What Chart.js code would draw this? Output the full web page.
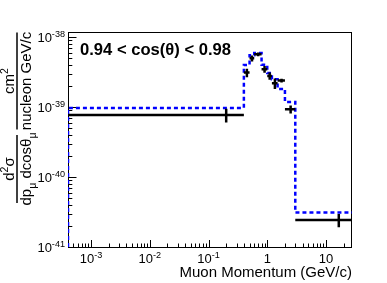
<!DOCTYPE html>
<html>
<head>
<meta charset="utf-8">
<script src="https://cdn.jsdelivr.net/npm/chart.js@4.4.1/dist/chart.umd.min.js"></script>
<style>
  body { margin: 0; background: #fff; }
  #wrap { width: 387px; height: 283px; }
</style>
</head>
<body>
<div id="wrap"><canvas id="xsecChart" width="387" height="283"></canvas></div>
<script>
// Muon momentum bins (GeV/c) for 0.94 < cos(theta) < 0.98
const binEdges = [0, 0.4, 0.5, 0.6, 0.8, 1.0, 1.2, 1.5, 2.0, 3.0, 30];
// measured cross section (cm^2 / nucleon GeV/c) and its error
const dataXsec = [7.7e-40, 3.1e-39, 4.96e-39, 5.66e-39, 3.46e-39, 2.77e-39, 2.18e-39, 2.38e-39, 9.3e-40, 2.43e-41];
const dataErr  = [1.7e-40, 4.3e-40, 5.0e-40, 3.5e-40, 3.8e-40, 3.3e-40, 3.7e-40, 1.5e-40, 1.2e-40, 5.2e-42];
// prediction, dashed blue histogram
const mcXsec   = [9.7e-40, 3.98e-39, 5.5e-39, 5.9e-39, 4.0e-39, 3.06e-39, 2.5e-39, 1.81e-39, 1.18e-39, 3.1e-41];
// axis decades for labels
const xDecades = [-3, -2, -1, 0, 1];
const yDecades = [-41, -40, -39, -38];
const xMin = 4.06e-4, xMax = 27.7;
const yMin = 1e-41, yMax = 1.178e-38;

const FONT = '"Liberation Sans", Arial, Helvetica, sans-serif';

// black: horizontal bin-width bar + vertical error bar, separated by gaps
const dataPoints = [];
dataXsec.forEach((v, i) => {
  const lo = Math.max(binEdges[i], xMin), hi = binEdges[i + 1];
  const c = (binEdges[i] + binEdges[i + 1]) / 2;
  dataPoints.push({x: lo, y: v}, {x: hi, y: v}, {x: hi, y: null});
  dataPoints.push({x: c, y: v - dataErr[i]}, {x: c, y: v + dataErr[i]}, {x: c, y: null});
});

// blue: step histogram starting from the bottom of the frame
const mcPoints = [{x: xMin, y: yMin}];
mcXsec.forEach((v, i) => {
  mcPoints.push({x: Math.max(binEdges[i], xMin), y: v}, {x: binEdges[i + 1], y: v});
});

function drawRich(ctx, runs, x, y, align, size) {
  const subSize = size * 0.7;
  let w = 0;
  runs.forEach(r => {
    ctx.font = (r[1] ? subSize : size) + 'px ' + FONT;
    w += ctx.measureText(r[0]).width;
  });
  let cx = align === 'center' ? x - w / 2 : (align === 'right' ? x - w : x);
  ctx.textAlign = 'left';
  ctx.textBaseline = 'alphabetic';
  runs.forEach(r => {
    ctx.font = (r[1] ? subSize : size) + 'px ' + FONT;
    const dy = r[1] === 1 ? -size * 0.42 : (r[1] === -1 ? size * 0.3 : 0);
    ctx.fillText(r[0], cx, y + dy);
    cx += ctx.measureText(r[0]).width;
  });
}

function drawFrac(ctx, bx, by, len, num, den, size) {
  ctx.save();
  ctx.translate(bx, by);
  ctx.rotate(-Math.PI / 2);
  ctx.fillStyle = '#000';
  ctx.strokeStyle = '#000';
  ctx.lineWidth = 1.5;
  ctx.beginPath();
  ctx.moveTo(-len / 2, 0);
  ctx.lineTo(len / 2, 0);
  ctx.stroke();
  drawRich(ctx, num, 0, -3, 'center', size);
  drawRich(ctx, den, 0, 14, 'center', size);
  ctx.restore();
}

const rootFrame = {
  id: 'rootFrame',
  beforeDatasetsDraw(chart) {
    const {ctx, chartArea: a, scales: {x, y}} = chart;
    ctx.save();
    ctx.strokeStyle = '#000';
    ctx.lineWidth = 1;
    ctx.strokeRect(a.left + 0.5, a.top + 0.5, a.right - a.left - 1, a.bottom - a.top);
    ctx.beginPath();
    // x ticks, pointing inward
    for (let e = -4; e <= 1; e++) {
      for (let k = 1; k <= 9; k++) {
        const v = k * Math.pow(10, e);
        if (v < x.min || v > x.max) continue;
        const px = Math.round(x.getPixelForValue(v)) + 0.5;
        ctx.moveTo(px, a.bottom);
        ctx.lineTo(px, a.bottom - (k === 1 ? 7 : 3.5));
      }
    }
    // y ticks
    for (let e = -42; e <= -38; e++) {
      for (let k = 1; k <= 9; k++) {
        const v = k * Math.pow(10, e);
        if (v < y.min || v > y.max) continue;
        const py = Math.round(y.getPixelForValue(v)) + 0.5;
        ctx.moveTo(a.left, py);
        ctx.lineTo(a.left + (k === 1 ? 8.5 : 4.3), py);
      }
    }
    ctx.stroke();

    ctx.fillStyle = '#000';
    xDecades.forEach(e => {
      const px = x.getPixelForValue(Math.pow(10, e));
      const runs = e === 0 ? [['1', 0]] : e === 1 ? [['10', 0]] : [['10', 0], [String(e), 1]];
      drawRich(ctx, runs, px, a.bottom + 16, 'center', 13);
    });
    yDecades.forEach(e => {
      const py = y.getPixelForValue(Math.pow(10, e));
      drawRich(ctx, [['10', 0], [String(e), 1]], a.left - 3, py + 5, 'right', 13);
    });

    ctx.font = '15px ' + FONT;
    ctx.textAlign = 'right';
    ctx.fillText('Muon Momentum (GeV/c)', a.right, a.bottom + 30);

    drawFrac(ctx, 17, 81, 97, [['cm', 0], ['2', 1]], [['nucleon GeV/c', 0]], 15);
    drawFrac(ctx, 17, 169, 68, [['d', 0], ['2', 1], ['σ', 0]],
      [['dp', 0], ['μ', -1], [' dcosθ', 0], ['μ', -1]], 15);

    ctx.font = 'bold 16.6px ' + FONT;
    ctx.textAlign = 'left';
    ctx.fillText('0.94 < cos(θ) < 0.98', a.left + 12, a.top + 23);
    ctx.restore();
  }
};

new Chart(document.getElementById('xsecChart'), {
  type: 'line',
  data: {
    datasets: [{
      label: 'Data',
      data: dataPoints,
      borderColor: '#000',
      borderWidth: 2.5,
      pointRadius: 0,
      spanGaps: false,
      fill: false
    }, {
      label: 'Prediction',
      data: mcPoints,
      borderColor: '#0000ff',
      borderWidth: 2.5,
      borderDash: [4, 3],
      pointRadius: 0,
      fill: false
    }]
  },
  options: {
    responsive: false,
    animation: false,
    devicePixelRatio: 1,
    layout: { padding: { left: 68, right: 35, top: 32, bottom: 36 } },
    plugins: { legend: { display: false }, tooltip: { enabled: false } },
    scales: {
      x: { type: 'logarithmic', min: xMin, max: xMax, display: false },
      y: { type: 'logarithmic', min: yMin, max: yMax, display: false }
    }
  },
  plugins: [rootFrame]
});
</script>
</body>
</html>
